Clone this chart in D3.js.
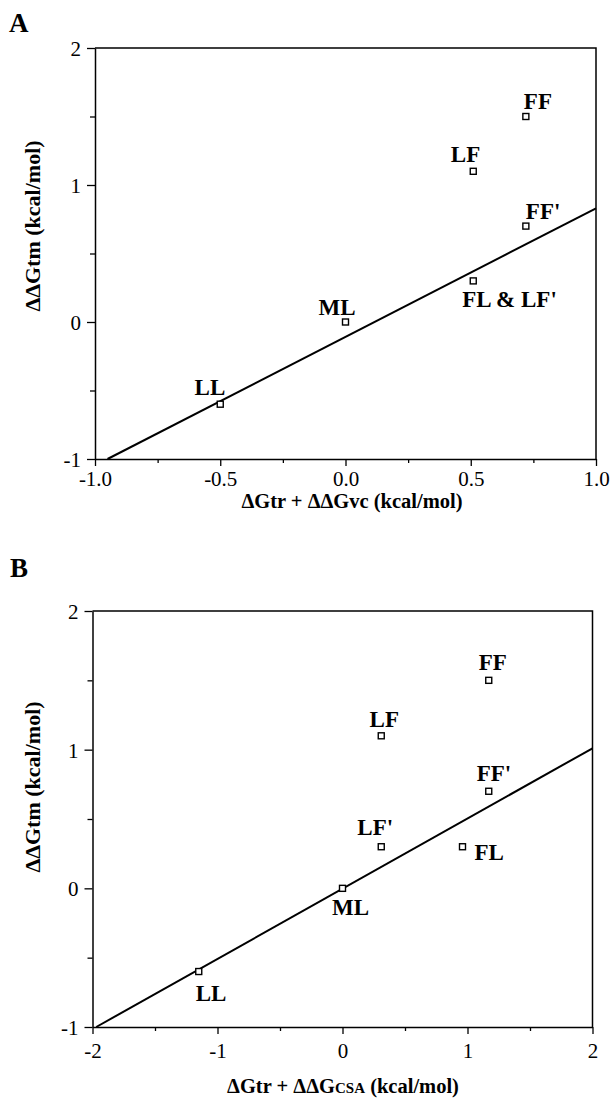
<!DOCTYPE html>
<html>
<head>
<meta charset="utf-8">
<script src="https://cdnjs.cloudflare.com/ajax/libs/d3/7.8.5/d3.min.js"></script>
<style>
  html, body { margin: 0; padding: 0; background: #fff; }
  svg { display: block; }
  text { font-family: "Liberation Serif", "Times New Roman", serif; fill: #000; }
</style>
</head>
<body>
<script>
// ---------- DATA ----------
// Panel A
const labelsA = ["FF", "LF", "FF'", "FL & LF'", "ML", "LL"];
const xA = [0.72, 0.51, 0.72, 0.51, 0.0, -0.5];
const yA = [1.5, 1.1, 0.7, 0.3, 0.0, -0.6];
const fitXA = [-0.95, 1.0];
const fitYA = [-1.0, 0.83];
const xTicksA = [-1.0, -0.5, 0.0, 0.5, 1.0];
const xMinorA = [-0.75, -0.25, 0.25, 0.75];
const xTickLabelsA = ["-1.0", "-0.5", "0.0", "0.5", "1.0"];

// Panel B
const labelsB = ["FF", "LF", "FF'", "LF'", "FL", "ML", "LL"];
const xB = [1.17, 0.31, 1.17, 0.31, 0.96, 0.0, -1.15];
const yB = [1.5, 1.1, 0.7, 0.3, 0.3, 0.0, -0.6];
const fitXB = [-1.97, 2.0];
const fitYB = [-1.0, 1.01];
const xTicksB = [-2, -1, 0, 1, 2];
const xMinorB = [-1.5, -0.5, 0.5, 1.5];
const xTickLabelsB = ["-2", "-1", "0", "1", "2"];

// Shared y axis
const yTicks = [-1, 0, 1, 2];
const yMinor = [-0.5, 0.5, 1.5];
const yTickLabels = ["-1", "0", "1", "2"];

// ---------- LAYOUT (not data) ----------
const W = 612, H = 1100;
const svg = d3.select("body").append("svg").attr("width", W).attr("height", H);

function drawPanel(cfg) {
  const x = d3.scaleLinear().domain(cfg.xDomain).range([cfg.left, cfg.right]);
  const y = d3.scaleLinear().domain([-1, 2]).range([cfg.bottom, cfg.top]);
  const g = svg.append("g");

  // panel letter
  g.append("text").attr("x", cfg.letterX).attr("y", cfg.letterY)
    .attr("font-size", 27).attr("font-weight", "bold").text(cfg.letter);

  // frame (top + right)
  g.append("path")
    .attr("d", `M${cfg.left},${cfg.top}H${cfg.right}V${cfg.bottom}`)
    .attr("fill", "none").attr("stroke", "#000").attr("stroke-width", 1.5);

  // x axis
  const xAxis = d3.axisBottom(x).tickValues(cfg.xTicks)
    .tickFormat((d, i) => cfg.xTickLabels[i]).tickSize(7).tickSizeOuter(0);
  const xg = g.append("g").attr("transform", `translate(0,${cfg.bottom})`).call(xAxis);
  xg.select(".domain").attr("stroke-width", 1.5);
  xg.selectAll(".tick line").attr("stroke-width", 1.3);
  xg.selectAll(".tick text").attr("font-size", 21).attr("font-family", "Liberation Serif")
    .attr("dy", null).attr("y", cfg.xTickLabelDy);
  const xm = d3.axisBottom(x).tickValues(cfg.xMinor).tickFormat("").tickSize(4).tickSizeOuter(0);
  const xmg = g.append("g").attr("transform", `translate(0,${cfg.bottom})`).call(xm);
  xmg.select(".domain").remove();
  xmg.selectAll(".tick line").attr("stroke-width", 1.3);

  // y axis
  const yAxis = d3.axisLeft(y).tickValues(yTicks)
    .tickFormat((d, i) => yTickLabels[i]).tickSize(8).tickSizeOuter(0);
  const yg = g.append("g").attr("transform", `translate(${cfg.left},0)`).call(yAxis);
  yg.select(".domain").attr("stroke-width", 1.5);
  yg.selectAll(".tick line").attr("stroke-width", 1.3);
  yg.selectAll(".tick text").attr("font-size", 21).attr("font-family", "Liberation Serif")
    .attr("x", -14).attr("dy", "0.35em");
  const ym = d3.axisLeft(y).tickValues(yMinor).tickFormat("").tickSize(5).tickSizeOuter(0);
  const ymg = g.append("g").attr("transform", `translate(${cfg.left},0)`).call(ym);
  ymg.select(".domain").remove();
  ymg.selectAll(".tick line").attr("stroke-width", 1.3);

  // fit line
  const line = d3.line().x(d => x(d[0])).y(d => y(d[1]));
  g.append("path").datum(d3.zip(cfg.fitX, cfg.fitY)).attr("d", line)
    .attr("fill", "none").attr("stroke", "#000").attr("stroke-width", 2);

  // points
  const pts = d3.zip(cfg.xs, cfg.ys, cfg.labels);
  const s = 6;
  g.selectAll("rect.pt").data(pts).enter().append("rect")
    .attr("class", "pt")
    .attr("x", d => x(d[0]) - s / 2).attr("y", d => y(d[1]) - s / 2)
    .attr("width", s).attr("height", s)
    .attr("fill", "#fff").attr("stroke", "#000").attr("stroke-width", 1.4);

  // point labels
  g.selectAll("text.pl").data(pts).enter().append("text")
    .attr("class", "pl")
    .attr("x", (d, i) => x(d[0]) + cfg.labelPos[i][0])
    .attr("y", (d, i) => y(d[1]) + cfg.labelPos[i][1])
    .attr("text-anchor", (d, i) => cfg.labelPos[i][2])
    .attr("font-size", 23).attr("font-weight", "bold")
    .text(d => d[2]);

  // x title
  const xt = g.append("text").attr("x", cfg.xTitleX).attr("y", cfg.xTitleY)
    .attr("text-anchor", "middle").attr("font-size", 20.5).attr("font-weight", "bold");
  cfg.xTitle.forEach(p => {
    const t = xt.append("tspan").text(p[0]);
    if (p[1]) t.attr("font-size", p[1]);
  });

  // y title
  g.append("text")
    .attr("transform", `translate(${cfg.yTitleX},${cfg.yTitleY}) rotate(-90)`)
    .attr("text-anchor", "middle").attr("font-size", 22).attr("font-weight", "bold")
    .text("ΔΔGtm (kcal/mol)");
}

drawPanel({
  letter: "A", letterX: 9, letterY: 32,
  left: 95, right: 596, top: 48, bottom: 459,
  xDomain: [-1, 1],
  xTicks: xTicksA, xMinor: xMinorA, xTickLabels: xTickLabelsA, xTickLabelDy: 27,
  xs: xA, ys: yA, labels: labelsA,
  fitX: fitXA, fitY: fitYA,
  labelPos: [[-2, -8, "start"], [7, -9, "end"], [0, -7, "start"], [-11, 26, "start"],
             [-27, -7, "start"], [5, -9, "end"]],
  xTitle: [["ΔGtr + ΔΔGvc (kcal/mol)"]], xTitleX: 352, xTitleY: 508,
  yTitleX: 40, yTitleY: 226
});

drawPanel({
  letter: "B", letterX: 10, letterY: 577,
  left: 92.5, right: 592.5, top: 611, bottom: 1027,
  xDomain: [-2, 2],
  xTicks: xTicksB, xMinor: xMinorB, xTickLabels: xTickLabelsB, xTickLabelDy: 31,
  xs: xB, ys: yB, labels: labelsB,
  fitX: fitXB, fitY: fitYB,
  labelPos: [[-10, -10, "start"], [3, -9, "middle"], [-12, -10, "start"], [-6, -12, "middle"],
             [12, 13, "start"], [8, 27, "middle"], [-3, 29, "start"]],
  xTitle: [["ΔGtr + ΔΔG"], ["CSA", 15], [" (kcal/mol)"]], xTitleX: 343, xTitleY: 1093,
  yTitleX: 40, yTitleY: 787
});
</script>
</body>
</html>
